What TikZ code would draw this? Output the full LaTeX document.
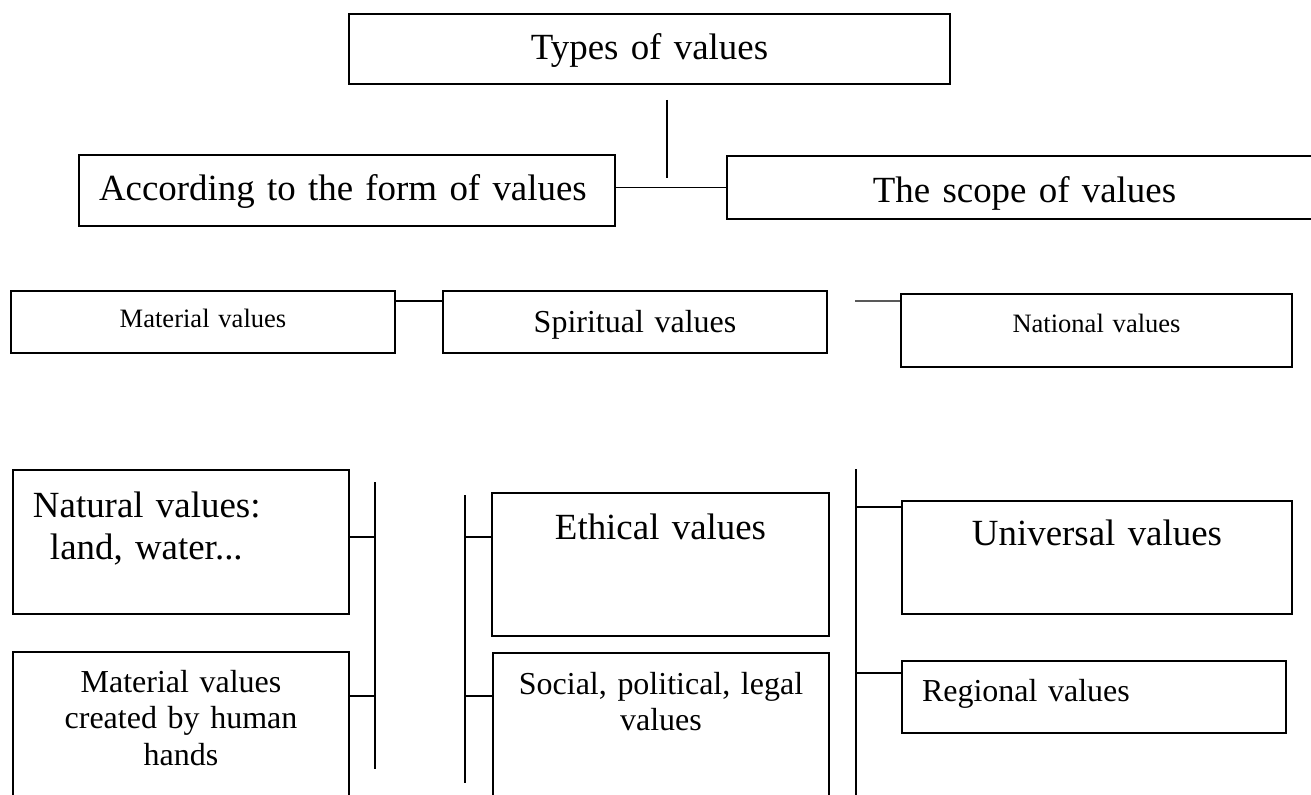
\documentclass[tikz,border=0pt]{standalone}
\usepackage{fontspec}
\setmainfont{Liberation Serif}
\tikzset{
  box/.style={draw, line width=0.5pt, anchor=north west, inner xsep=0pt, inner ysep=0pt, outer sep=0pt, align=center},
  leftbox/.style={box, inner xsep=0.2cm, align=left},
  big/.style={font=\fontsize{10.5}{11.95}\selectfont},
  mid/.style={font=\fontsize{9.1}{10.4}\selectfont},
  small/.style={font=\fontsize{7.55}{9}\selectfont},
  bar/.style={line width=0.4pt}
}
\begin{document}
\begin{tikzpicture}
\path[use as bounding box, fill=white] (0,0) rectangle (13.11,-7.94);
% top row
\node[box, big, text width=6.01cm, text height=0.46cm, text depth=0.24cm] (types) at (3.49,-0.14) {Types of values};
\node[leftbox, big, text width=4.96cm, text height=0.46cm, text depth=0.25cm] (formbox) at (0.79,-1.55) {According to the form of values};
\node[box, big, text width=5.95cm, text height=0.46cm, text depth=0.17cm] (scopebox) at (7.27,-1.56) {The scope of values};
\coordinate (stemtop) at (6.67,-1.00);
\coordinate (stembot) at (6.67,-1.78);
\draw[bar] (stemtop) -- (stembot);
\draw[bar] (scopebox.west -| formbox.east) -- (scopebox.west);
% middle row
\node[box, small, text width=3.84cm, text height=0.36cm, text depth=0.26cm] (material) at (0.11,-2.91) {Material values};
\node[box, mid, text width=3.84cm, text height=0.41cm, text depth=0.21cm] (spiritual) at (4.43,-2.91) {Spiritual values};
\node[box, small, text width=3.91cm, text height=0.38cm, text depth=0.35cm] (national) at (9.01,-2.94) {National values};
\draw[bar] ([yshift=-0.1cm]material.north east) -- ([yshift=-0.1cm]spiritual.north west);
\coordinate (natfree) at (8.55,-3.01);
\draw[bar] (natfree) -- ([yshift=-0.07cm]national.north west);
% bottom row
\node[leftbox, big, text width=2.96cm, text height=0.47cm, text depth=0.97cm] (natural) at (0.13,-4.70) {Natural values:\\\hspace*{0.17cm}land, water...};
\node[box, mid, text width=3.36cm, text height=0.40cm, text depth=1.6cm] (human) at (0.13,-6.52) {Material values\\created by human\\hands};
\node[box, big, text width=3.37cm, text height=0.46cm, text depth=0.97cm] (ethical) at (4.92,-4.93) {Ethical values};
\node[box, mid, text width=3.36cm, text height=0.41cm, text depth=1.6cm] (social) at (4.93,-6.53) {Social, political, legal\\values};
\node[box, big, text width=3.90cm, text height=0.44cm, text depth=0.69cm] (universal) at (9.02,-5.01) {Universal values};
\node[leftbox, mid, text width=3.44cm, text height=0.40cm, text depth=0.32cm] (regional) at (9.02,-6.61) {Regional values};
% bars
\coordinate (barLtop) at (3.75,-4.82);
\coordinate (barLbot) at (3.75,-7.69);
\coordinate (barMtop) at (4.65,-4.95);
\coordinate (barMbot) at (4.65,-7.83);
\coordinate (barRtop) at (8.56,-4.69);
\coordinate (barRbot) at (8.56,-8.00);
\draw[bar] (barLtop) -- (barLbot);
\draw[bar] (barMtop) -- (barMbot);
\draw[bar] (barRtop) -- (barRbot);
\draw[bar] ([yshift=-0.67cm]natural.north east) -- ([yshift=-0.67cm]natural.north east -| barLtop);
\draw[bar] ([yshift=-0.44cm]human.north east) -- ([yshift=-0.44cm]human.north east -| barLtop);
\draw[bar] ([yshift=-0.44cm]ethical.north west) -- ([yshift=-0.44cm]ethical.north west -| barMtop);
\draw[bar] ([yshift=-0.43cm]social.north west) -- ([yshift=-0.43cm]social.north west -| barMtop);
\draw[bar] ([yshift=-0.06cm]universal.north west) -- ([yshift=-0.06cm]universal.north west -| barRtop);
\draw[bar] ([yshift=-0.12cm]regional.north west) -- ([yshift=-0.12cm]regional.north west -| barRtop);
\end{tikzpicture}
\end{document}
